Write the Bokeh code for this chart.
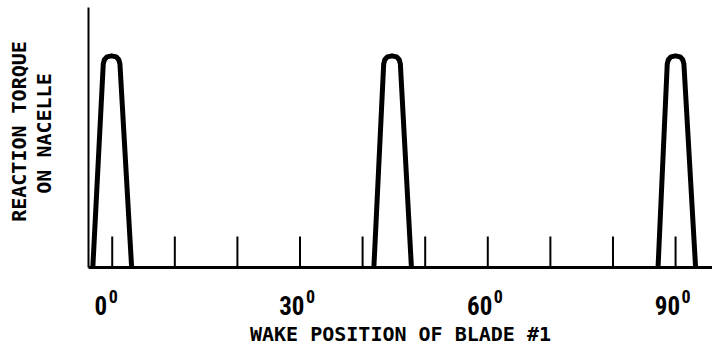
import math
from bokeh.plotting import figure
from bokeh.models import Range1d
from bokeh.core.properties import value
from bokeh.embed import file_html
from bokeh.resources import INLINE

# Data: wake position of blade #1 (degrees) vs reaction torque (relative)
pulse1_deg = [-3.1, -1.43, -1.25, -0.85, -0.1, 0.65, 1.05, 1.23, 3.1]
pulse1_torque = [0.0, 0.783, 0.799, 0.81, 0.814, 0.81, 0.799, 0.783, 0.0]
pulse2_deg = [41.8, 43.37, 43.55, 43.95, 44.7, 45.45, 45.85, 46.03, 47.8]
pulse2_torque = [0.0, 0.783, 0.799, 0.81, 0.814, 0.81, 0.799, 0.783, 0.0]
pulse3_deg = [87.2, 88.67, 88.85, 89.25, 90.0, 90.75, 91.15, 91.33, 93.2]
pulse3_torque = [0.0, 0.783, 0.799, 0.81, 0.814, 0.81, 0.799, 0.783, 0.0]

# axis extents (data units)
deg_axis_start = -3.79
deg_axis_end = 95.9
torque_axis = [0.0, 1.0]

tick_positions = [0, 10, 20, 30, 40, 50, 60, 70, 80, 90]
labelled_ticks = [0, 30, 60, 90]
tick_label_text = ["0", "30", "60", "90"]
degree_mark = "0"
x_title = "WAKE POSITION OF BLADE #1"
y_title_lines = ["REACTION TORQUE", "ON NACELLE"]

AXIS_FONT = "DejaVu Sans Mono"
NUM_FONT = "Roboto Condensed"

# frame fills the canvas: 6.2595 px per degree, 260 px per torque unit
PX_PER_DEG = 6.2595
PX_PER_UNIT = 260.0
LEFT_PX, BASE_PX, W, H = 88.0, 267.0, 712, 350

p = figure(width=W, height=H, output_backend="svg", toolbar_location=None,
           x_range=Range1d(deg_axis_start - LEFT_PX / PX_PER_DEG, deg_axis_end),
           y_range=Range1d(-(H - BASE_PX) / PX_PER_UNIT, BASE_PX / PX_PER_UNIT),
           x_axis_type=None, y_axis_type=None,
           min_border_left=0, min_border_right=0, min_border_top=0, min_border_bottom=0)
p.outline_line_color = None
p.xgrid.visible = False
p.ygrid.visible = False
p.background_fill_color = "white"
p.border_fill_color = "white"

# axes lines
p.segment(x0=[deg_axis_start], y0=[torque_axis[0]], x1=[deg_axis_start], y1=[torque_axis[1]],
          line_color="black", line_width=2)
p.segment(x0=[deg_axis_start], y0=[0], x1=[deg_axis_end], y1=[0],
          line_color="black", line_width=3)
# inward ticks every 10 degrees
p.ray(x=tick_positions, y=[0] * len(tick_positions), length=31, length_units="screen",
      angle=math.pi / 2, line_color="black", line_width=2)

# torque pulses
p.multi_line(xs=[pulse1_deg, pulse2_deg, pulse3_deg],
             ys=[pulse1_torque, pulse2_torque, pulse3_torque],
             line_color="black", line_width=5, line_join="round", line_cap="butt")

# tick labels with raised degree "0"
for t, txt in zip(labelled_ticks, tick_label_text):
    right_edge = 4.5 if len(txt) > 1 else -5.0
    p.text(x=[t], y=[0], text=[txt], x_offset=right_edge, y_offset=37.7,
           text_font=value(NUM_FONT), text_font_size="25px", text_font_style="bold",
           text_align="right", text_baseline="alphabetic", text_color="black")
    p.text(x=[t], y=[0], text=[degree_mark], x_offset=right_edge + 1.5, y_offset=29.2,
           text_font=value(NUM_FONT), text_font_size="18px", text_font_style="bold",
           text_align="left", text_baseline="alphabetic", text_color="black")

# x title
p.text(x=[(deg_axis_start + deg_axis_end) / 2], y=[0], text=[x_title], y_offset=66,
       text_font=value(AXIS_FONT), text_font_size="20px", text_font_style="bold",
       text_align="center", text_baseline="alphabetic", text_color="black")

# y title, two lines reading upward
for line, dx, dy in zip(y_title_lines, [-69.5, -44.0], [-136, -134]):
    p.text(x=[deg_axis_start], y=[0], text=[line], x_offset=dx, y_offset=dy,
           angle=math.pi / 2, text_font=value(AXIS_FONT), text_font_size="20px",
           text_font_style="bold", text_align="center", text_baseline="middle",
           text_color="black")

open("out.html", "w").write(file_html(p, INLINE))
